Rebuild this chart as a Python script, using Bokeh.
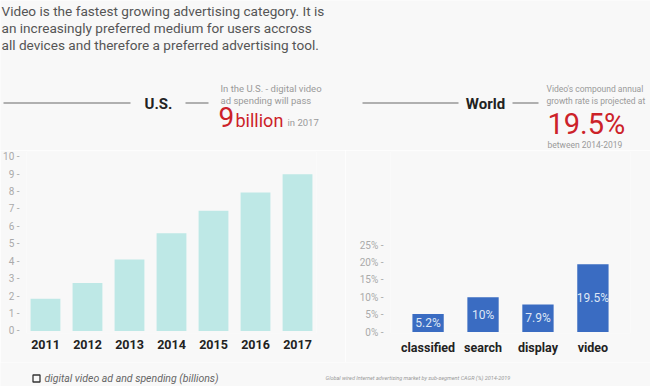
from bokeh.plotting import figure
from bokeh.layouts import column, row
from bokeh.models import Range1d, FactorRange, FixedTicker, PrintfTickFormatter
from bokeh.core.properties import value
from bokeh.embed import file_html
from bokeh.resources import INLINE

# ---- data ----
years = ["2011", "2012", "2013", "2014", "2015", "2016", "2017"]
us_spend = [1.85, 2.75, 4.1, 5.6, 6.9, 7.95, 9.0]
us_ticks = [0, 1, 2, 3, 4, 5, 6, 7, 8, 9, 10]

segments = ["classified", "search", "display", "video"]
cagr = [5.2, 10.0, 7.9, 19.5]
cagr_ticks = [0, 5, 10, 15, 20, 25]

title_lines = [
    "Video is the fastest growing advertising category. It is",
    "an increasingly preferred medium for users accross",
    "all devices and therefore a preferred advertising tool.",
]

BG = "#f8f8f8"
FONT = "Roboto"
RED = "#cc2229"
GRAY = "#9a9a9a"


def base(width, height, **kw):
    p = figure(width=width, height=height, output_backend="svg", toolbar_location=None,
               background_fill_color=BG, border_fill_color=BG, outline_line_color=None,
               min_border=0, **kw)
    return p


def txt(p, x, y, t, size, color, align="left", baseline="middle", style="normal"):
    p.text(x=[x], y=[y], text=[t], text_font=value(FONT), text_font_size=size,
           text_color=color, text_align=align, text_baseline=baseline,
           text_font_style=style)


# ---- header (page coordinates 0..650 x 0..150) ----
hd = base(650, 150, x_range=Range1d(0, 650), y_range=Range1d(150, 0),
          x_axis_type=None, y_axis_type=None)
hd.grid.grid_line_color = None
for i, t in enumerate(title_lines):
    txt(hd, 1, 10 + 17 * i, t, "13.6px", "#555555")

for xs in ([3, 130], [185, 208], [362, 458], [512, 538]):
    hd.line(x=xs, y=[102.5, 102.5], line_color="#999999", line_width=1.5)
txt(hd, 158, 103, "U.S.", "15px", "#222222", align="center", style="bold")
txt(hd, 485, 103, "World", "15px", "#222222", align="center", style="bold")

txt(hd, 220, 88, "In the U.S. - digital video", "9.5px", GRAY)
txt(hd, 220, 99.5, "ad spending will pass", "9.5px", GRAY)
txt(hd, 218, 116, "9", "28px", RED)
txt(hd, 235, 120, "billion", "18px", RED)
txt(hd, 287, 122, "in 2017", "9.5px", GRAY)

txt(hd, 546, 88, "Video's compound annual", "8.5px", GRAY)
txt(hd, 546, 100, "growth rate is projected at", "8.5px", GRAY)
txt(hd, 547, 123, "19.5%", "29px", RED)
txt(hd, 547, 144, "between 2014-2019", "8.5px", GRAY)


def style_axes(p):
    p.grid.grid_line_color = None
    for ax in (p.xaxis, p.yaxis):
        ax.axis_line_color = None
        ax.major_tick_line_color = None
        ax.minor_tick_line_color = None
    p.yaxis.major_label_text_font = FONT
    p.yaxis.major_label_text_font_size = "10px"
    p.yaxis.major_label_text_color = "#aaaaaa"
    p.yaxis.major_label_standoff = 1
    p.xaxis.major_label_text_font = FONT
    p.xaxis.major_label_text_font_size = "12.5px"
    p.xaxis.major_label_text_font_style = "bold"
    p.xaxis.major_label_text_color = "#222222"
    p.xaxis.major_label_standoff = 0


# ---- U.S. chart ----
us = base(345, 212, x_range=FactorRange(*years, range_padding=-0.048, range_padding_units="absolute"),
          y_range=Range1d(-0.15, 10.3), min_border_top=1, min_border_bottom=29,
          min_border_right=29)
us.vbar(x=years, top=us_spend, width=0.71, fill_color="#bee8e6", line_color=None)
us.yaxis.ticker = FixedTicker(ticks=us_ticks)
us.yaxis.formatter = PrintfTickFormatter(format="%d -")
style_axes(us)

# ---- World chart ----
wd = base(305, 212, x_range=FactorRange(*segments, range_padding=0.184, range_padding_units="absolute"),
          y_range=Range1d(-0.43, 51.87), min_border_top=1, min_border_bottom=29,
          min_border_left=45, min_border_right=20)
wd.vbar(x=segments, top=cagr, width=0.57, fill_color="#3a6cc2", line_color=None)
wd.text(x=segments, y=[v / 2 for v in cagr], text=[f"{v:g}%" for v in cagr],
        text_font=value(FONT), text_font_size="12px", text_color="#dfe7f5",
        text_align="center", text_baseline="middle")
wd.yaxis.ticker = FixedTicker(ticks=cagr_ticks)
wd.yaxis.formatter = PrintfTickFormatter(format="%d%% -")
style_axes(wd)

# ---- footer ----
ft = base(650, 24, x_range=Range1d(0, 650), y_range=Range1d(386, 362),
          x_axis_type=None, y_axis_type=None)
ft.grid.grid_line_color = None
ft.scatter(x=[36], y=[378], marker="square", size=7, fill_color=None,
           line_color="#333333", line_width=1.3)
txt(ft, 44, 378, "digital video ad and spending (billions)", "10.5px", "#666666", style="italic")
txt(ft, 325, 377, "Global wired Internet advertising market by sub-segment CAGR (%) 2014-2019",
    "5.5px", "#999999", style="italic")

layout = column(hd, row(us, wd), ft, spacing=0)
open("out.html", "w").write(file_html(layout, INLINE))
